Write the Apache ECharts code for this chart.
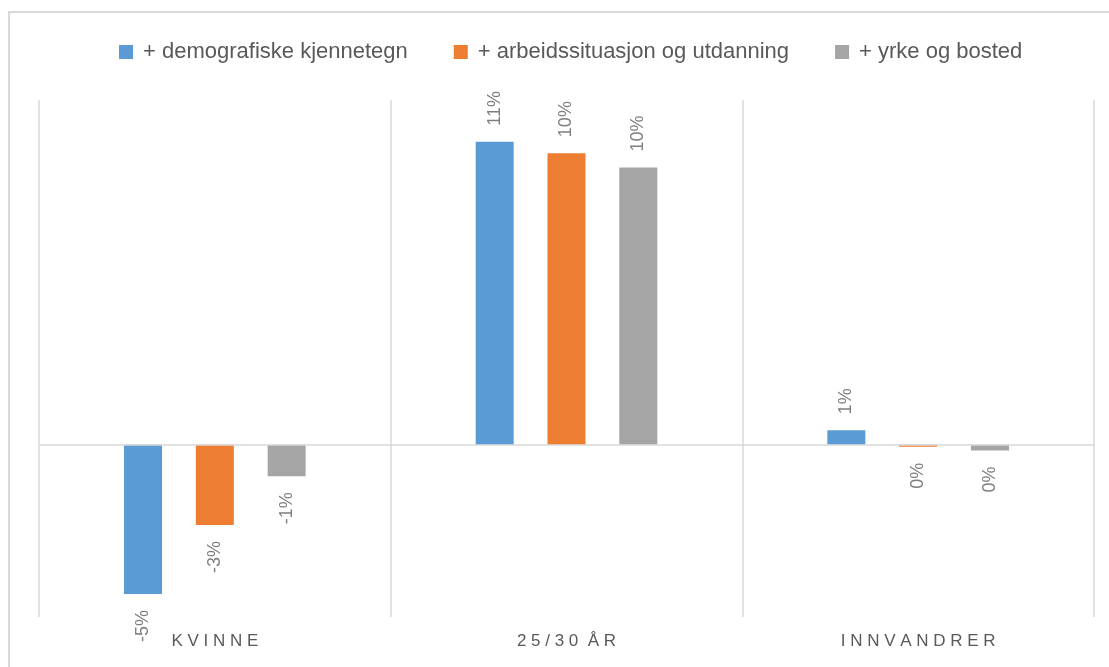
<!DOCTYPE html>
<html>
<head>
<meta charset="utf-8">
<script src="https://cdn.jsdelivr.net/npm/echarts@6/dist/echarts.min.js"></script>
<style>
  html, body { margin: 0; padding: 0; background: #fff; }
  #chart { position: absolute; left: 0; top: 0; width: 1109px; height: 667px; }
  #frame { position: absolute; left: 8px; top: 11px; width: 1200px; height: 800px;
           border-left: 2px solid #d9d9d9; border-top: 2px solid #d9d9d9; pointer-events: none; }
</style>
</head>
<body>
<div id="chart"></div>
<div id="frame"></div>
<script>
// categories and series (percent)
const categories = ['KVINNE', '25/30 ÅR', 'INNVANDRER'];
const seriesNames = ['+ demografiske kjennetegn', '+ arbeidssituasjon og utdanning', '+ yrke og bosted'];
const demografiske = [-5.2, 10.55, 0.5];
const arbeid = [-2.8, 10.15, -0.07];
const yrkeBosted = [-1.1, 9.65, -0.2];
const colors = ['#5B9BD5', '#ED7D31', '#A5A5A5'];

const font = 'Liberation Sans';

function labelled(values) {
    return values.map(v => ({
        value: v,
        label: v >= 0
            ? { position: 'top', align: 'left' }
            : { position: 'bottom', align: 'right' }
    }));
}

const seriesValues = [demografiske, arbeid, yrkeBosted];

let myChart = echarts.init(document.getElementById('chart'));
myChart.setOption({
    animation: false,
    color: colors,
    textStyle: { fontFamily: font },
    legend: {
        top: 36,
        left: 114,
        itemWidth: 14,
        itemHeight: 14,
        itemGap: 46,
        icon: 'rect',
        textStyle: { fontSize: 22, color: '#595959', fontFamily: font, padding: [0, 0, 0, 5] }
    },
    grid: { left: 39, right: 15, top: 100, bottom: 50 },
    xAxis: {
        type: 'category',
        data: categories,
        axisLine: { show: false },
        axisTick: { show: false },
        splitLine: { show: true, lineStyle: { color: '#d9d9d9', width: 1.5 } },
        axisLabel: {
            margin: 16,
            fontSize: 17,
            color: '#595959',
            fontFamily: font,
            formatter: v => v.split('').join(' ').replace(/   /g, '  ')
        }
    },
    yAxis: {
        type: 'value',
        min: -6,
        max: 12,
        show: false
    },
    series: seriesValues.map((vals, i) => ({
        name: seriesNames[i],
        type: 'bar',
        barWidth: 38,
        barGap: '89%',
        data: labelled(vals),
        label: {
            show: true,
            rotate: 90,
            verticalAlign: 'middle',
            distance: 16,
            fontSize: 18,
            color: '#7f7f7f',
            fontFamily: font,
            formatter: p => Math.round(p.value) + '%'
        },
        markLine: i === 0 ? {
            silent: true,
            symbol: 'none',
            label: { show: false },
            lineStyle: { color: '#d9d9d9', width: 1.5, type: 'solid' },
            data: [{ yAxis: 0 }]
        } : undefined
    }))
});
</script>
</body>
</html>
